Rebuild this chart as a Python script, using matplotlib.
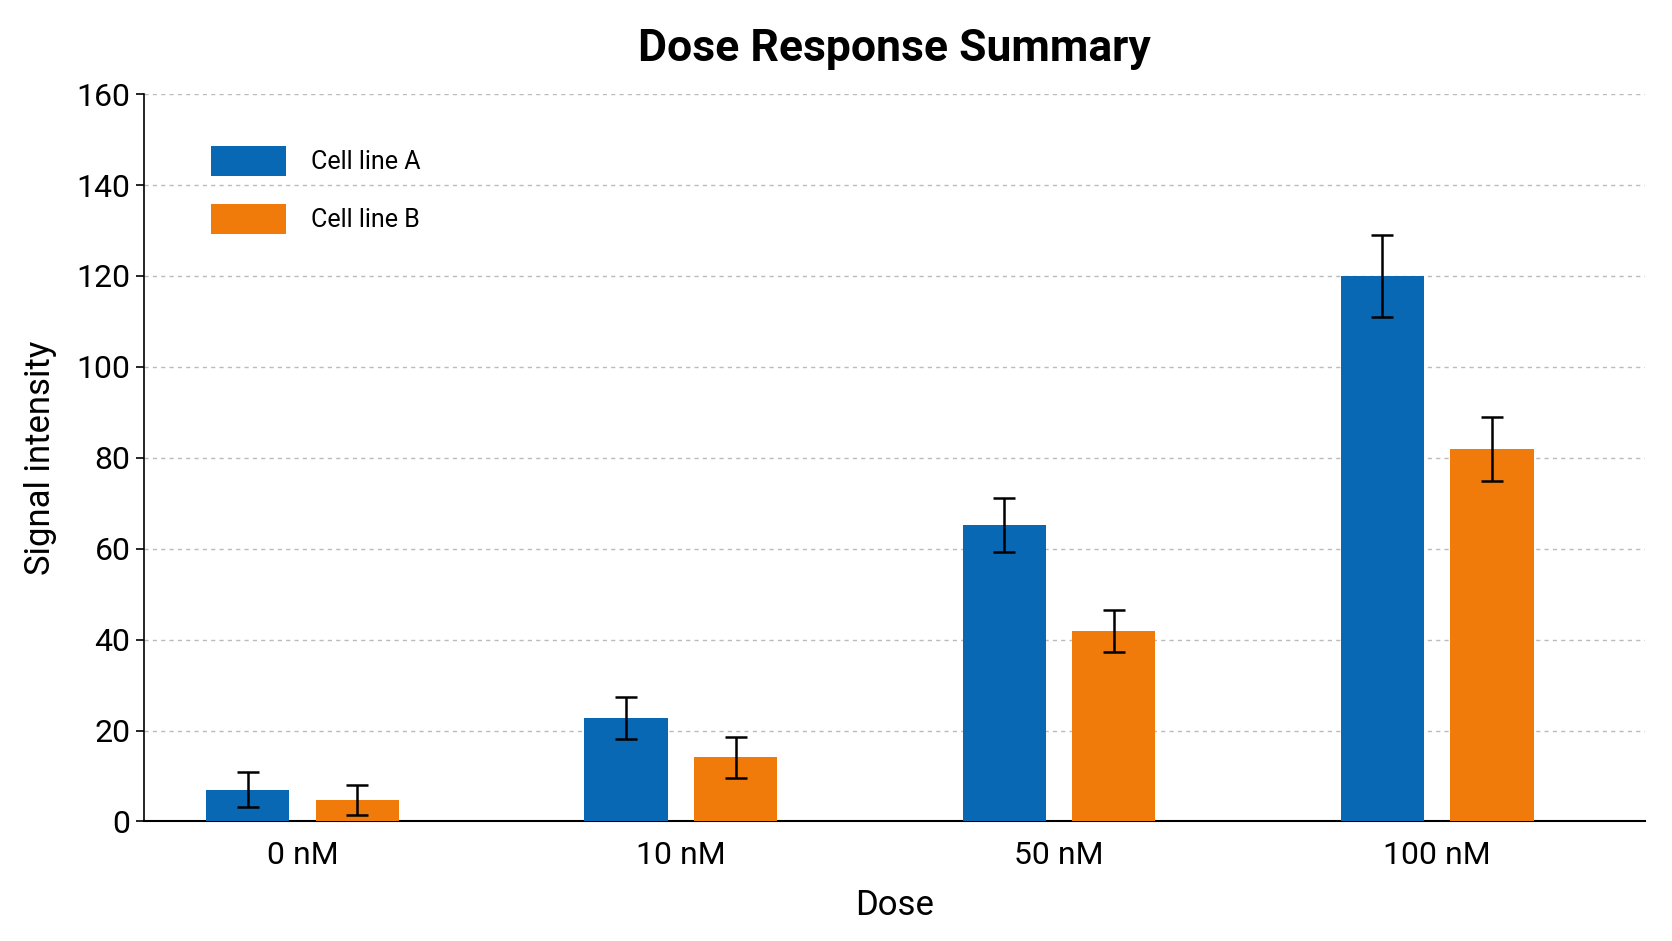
import matplotlib
matplotlib.use("Agg")
import matplotlib.pyplot as plt
import numpy as np

doses = ["0 nM", "10 nM", "50 nM", "100 nM"]
a_vals = [7.0, 22.8, 65.2, 120.0]
a_err = [3.8, 4.6, 5.9, 9.0]
b_vals = [4.7, 14.1, 41.9, 81.9]
b_err = [3.3, 4.5, 4.6, 7.0]

plt.rcParams['font.family'] = ['Roboto', 'DejaVu Sans']
fig = plt.figure(figsize=(16.72, 9.41), dpi=100)
ax = fig.add_axes([0.086, 0.127, 0.898, 0.773])
x = np.arange(len(doses))
w = 0.22
off = 0.145
ax.bar(x - off, a_vals, w, yerr=a_err, color="#0868b4", label="Cell line A",
       error_kw=dict(ecolor="black", capsize=8, elinewidth=1.8, capthick=1.8), zorder=3)
ax.bar(x + off, b_vals, w, yerr=b_err, color="#f07a0a", label="Cell line B",
       error_kw=dict(ecolor="black", capsize=8, elinewidth=1.8, capthick=1.8), zorder=3)
ax.set_xlim(-0.42, 3.55)
ax.set_ylim(0, 160)
ax.set_yticks(range(0, 161, 20))
ax.set_xticks(x)
ax.set_xticklabels(doses)
ax.tick_params(axis='both', labelsize=23, length=6, width=1.2)
ax.tick_params(axis='x', length=0, pad=14)
ax.grid(axis='y', linestyle=(0, (3, 3)), color="#bbbbbb", linewidth=1, zorder=0)
for s in ["top", "right"]:
    ax.spines[s].set_visible(False)
ax.spines["left"].set_linewidth(1.2)
ax.spines["bottom"].set_linewidth(1.5)
ax.set_xlabel("Dose", fontsize=25, labelpad=14)
ax.set_ylabel("Signal intensity", fontsize=25, labelpad=14)
ax.set_title("Dose Response Summary", fontsize=32, fontweight="bold", pad=24)
ax.legend(loc="upper left", bbox_to_anchor=(0.03, 0.96), frameon=False, fontsize=18,
          handlelength=3.0, handleheight=1.5, labelspacing=1.1, handletextpad=1.0)
fig.savefig("out.png", dpi=100, facecolor="white")
